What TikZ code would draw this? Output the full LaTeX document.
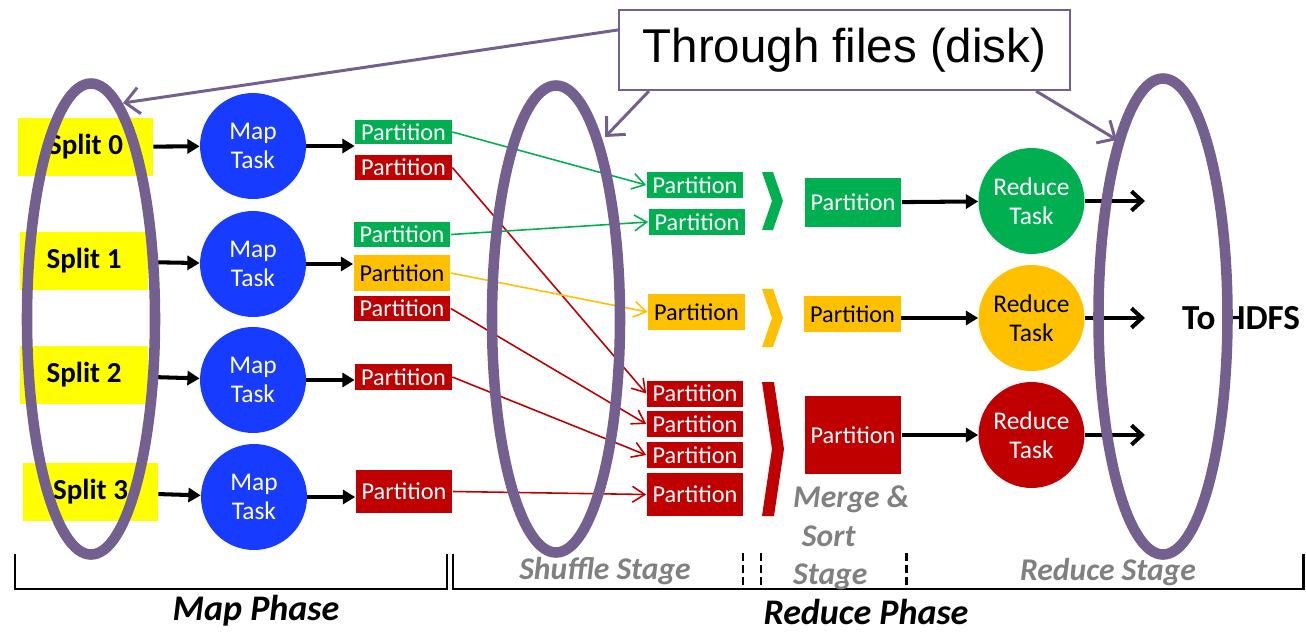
\documentclass[tikz,border=0pt]{standalone}
\usepackage{fontspec}
\setmainfont{Carlito}
\newfontfamily\calloutfont{Liberation Sans}
\usetikzlibrary{arrows.meta,calc}

\definecolor{splityellow}{HTML}{FFFF00}
\definecolor{mapblue}{HTML}{173BFF}
\definecolor{pgreen}{HTML}{00B050}
\definecolor{pred}{HTML}{C00000}
\definecolor{pyellow}{HTML}{FFC000}
\definecolor{ringpurple}{HTML}{74608F}
\definecolor{stagegray}{HTML}{808080}

\tikzset{
  split/.style={fill=splityellow, minimum height=1.16cm, inner sep=0pt, font=\bfseries\fontsize{16.5}{19}\selectfont},
  task/.style={circle, text=white, minimum size=2.12cm, inner sep=0pt, align=center, font=\fontsize{14.5}{16.6}\selectfont},
  part/.style={minimum width=1.94cm, minimum height=0.5cm, inner sep=0pt, font=\fontsize{13.8}{15}\selectfont},
  gpart/.style={part, fill=pgreen, text=white},
  rpart/.style={part, fill=pred, text=white},
  ypart/.style={part, fill=pyellow, text=black},
  feed/.style={line width=2.3pt, -{Triangle[length=7pt,width=8pt]}},
  emit/.style={line width=2.3pt, -{Straight Barb[length=6pt,width=11pt,line width=2.3pt]}},
  shuf/.style={line width=0.9pt, -{Straight Barb[length=7pt,width=9pt]}},
  ring/.style={draw=ringpurple, line width=6pt},
  pointer/.style={draw=ringpurple, line width=1.7pt, -{Straight Barb[length=8pt,width=15pt,line width=1.7pt]}},
  brace/.style={line width=1.7pt},
  tick/.style={line width=1.7pt, dash pattern=on 4.5pt off 2.3pt},
  phase/.style={font=\bfseries\itshape\fontsize{20.5}{24}\selectfont},
  stage/.style={text=stagegray, font=\bfseries\itshape\fontsize{18}{22}\selectfont}
}

\begin{document}
\begin{tikzpicture}[x=0.02cm,y=-0.02cm]
\useasboundingbox (0,0) rectangle (1306,632);

% splits and map tasks
\node[split, minimum width=2.7cm] (s0) at (85.5,147) {Split 0};
\node[split, minimum width=2.56cm] (s1) at (84,261) {Split 1};
\node[split, minimum width=2.56cm] (s2) at (84,375) {Split 2};
\node[split, minimum width=2.7cm] (s3) at (90.5,492) {Split 3};
\node[task, fill=mapblue] (m0) at (253,146) {Map\\Task};
\node[task, fill=mapblue] (m1) at (253,264) {Map\\Task};
\node[task, fill=mapblue] (m2) at (253,380) {Map\\Task};
\node[task, fill=mapblue] (m3) at (254,497) {Map\\Task};

% map side partitions
\node[gpart, minimum height=0.48cm] (P0g) at (403.5,132) {Partition};
\node[rpart] (P0r) at (403.5,167.5) {Partition};
\node[gpart] (P1g) at (402,234.5) {Partition};
\node[ypart, minimum height=0.72cm] (P1y) at (402,273) {Partition};
\node[rpart] (P1r) at (402,308.5) {Partition};
\node[rpart, minimum height=0.52cm] (P2r) at (403.5,377) {Partition};
\node[rpart, minimum height=0.86cm] (P3r) at (404,491.5) {Partition};

% reduce side partitions
\node[gpart, minimum height=0.52cm] (R0a) at (695,185) {Partition};
\node[gpart, minimum height=0.52cm] (R0b) at (697,222) {Partition};
\node[ypart, minimum height=0.72cm] (R1) at (696.5,312) {Partition};
\node[rpart, minimum height=0.52cm] (R2a) at (695,393.5) {Partition};
\node[rpart, minimum height=0.52cm] (R2b) at (695,424) {Partition};
\node[rpart, minimum height=0.52cm] (R2c) at (695,455) {Partition};
\node[rpart, minimum height=0.86cm] (R2d) at (695,494.5) {Partition};

% merge chevrons
\fill[pgreen] (762,172) -- (773,172) -- (783,201) -- (773,230) -- (762,230) -- (772,201) -- cycle;
\fill[pyellow] (762,289) -- (773,289) -- (783,318) -- (773,347) -- (762,347) -- (772,318) -- cycle;
\fill[pred] (762,382) -- (774,382) -- (784,449) -- (774,516) -- (762,516) -- (772,449) -- cycle;

% merged partitions and reduce tasks
\node[gpart, minimum height=0.98cm] (Mg) at (853,202.5) {Partition};
\node[ypart, minimum height=0.72cm] (My) at (852.5,314) {Partition};
\node[rpart, minimum height=1.56cm] (Mr) at (853,435) {Partition};
\node[task, fill=pgreen] (rt0) at (1031.5,201) {Reduce\\Task};
\node[task, fill=pyellow, text=black] (rt1) at (1031.5,318) {Reduce\\Task};
\node[task, fill=pred] (rt2) at (1031.5,435) {Reduce\\Task};
\coordinate (o0) at (1145,201);
\coordinate (o1) at (1145,318);
\coordinate (o2) at (1145,435);
\node[anchor=west, font=\bfseries\fontsize{20}{23}\selectfont] (hdfs) at (1176,318) {To HDFS};

% arrows
\foreach \i in {0,1,2,3}
  \draw[feed] (s\i) -- (m\i);
\draw[feed] (m0) -- (m0 -| P0g.west);
\draw[feed] (m1) -- (m1 -| P1y.west);
\draw[feed] (m2) -- (m2 -| P2r.west);
\draw[feed] (m3) -- (m3 -| P3r.west);
\draw[feed] (Mg) -- (rt0);
\draw[feed] (rt1 -| My.east) -- (rt1);
\draw[feed] (Mr) -- (rt2);
\foreach \i in {0,1,2}
  \draw[emit] (rt\i) -- (o\i);

% shuffle
\draw[shuf, pgreen] (P0g.east) -- (R0a.west);
\draw[shuf, pred] (P0r.east) -- (R2a.west);
\draw[shuf, pgreen] (P1g.east) -- (R0b.west);
\draw[shuf, pyellow] (P1y.east) -- (R1.west);
\draw[shuf, pred] (P1r.east) -- (R2b.west);
\draw[shuf, pred] (P2r.east) -- (R2c.west);
\draw[shuf, pred] (P3r.east) -- (R2d.west);

% brackets and stage labels
\draw[brace] (15,554) -- (15,589) -- (447,589) -- (447,554);
\draw[brace] (453,554) -- (453,589) -- (1303,589) -- (1303,554);
\foreach \x in {743,761,906}
  \draw[tick] (\x,553) -- (\x,589);
\node[phase] (mapph) at (256,611) {Map Phase};
\node[phase] (redph) at (866,612) {Reduce Phase};
\node[stage] (shufst) at (605,571) {Shuffle Stage};
\node[stage, anchor=west, align=left] (mergest) at (787,538) {Merge \&\\\hspace{5pt}Sort\\Stage};
\node[stage] (redst) at (1108,572) {Reduce Stage};

% files on disk
\draw[ring] (91,319) ellipse [x radius=64, y radius=235.5];
\draw[ring] (556,319) ellipse [x radius=64, y radius=233.5];
\draw[ring] (1163,316.5) ellipse [x radius=64.5, y radius=238];
\node[draw=ringpurple, line width=1.2pt, fill=white, minimum width=9.02cm, minimum height=1.6cm, font=\calloutfont\fontsize{27}{30}\selectfont] (disk) at (844.5,50) {Through files (disk)};
\coordinate (t0) at (123,103);
\coordinate (t1) at (605,137);
\coordinate (t2) at (1117,140);
\draw[pointer] ([yshift=-0.42cm]disk.north west) -- (t0);
\draw[pointer] ([xshift=0.62cm]disk.south west) -- (t1);
\draw[pointer] ([xshift=-0.7cm]disk.south east) -- (t2);
\end{tikzpicture}
\end{document}
